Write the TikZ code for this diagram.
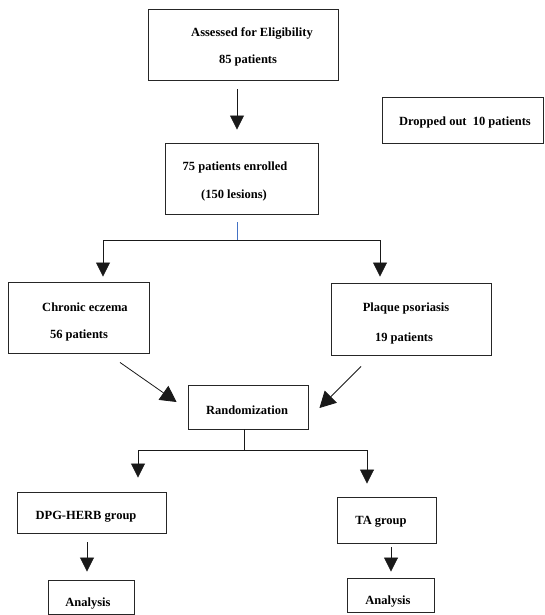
\documentclass[tikz,border=0pt]{standalone}
\usepackage{fontspec}
\setmainfont{Liberation Serif}
\usetikzlibrary{arrows.meta,calc}
\definecolor{linkblue}{RGB}{68,114,196}
\begin{document}
\begin{tikzpicture}[x=1pt,y=-1pt,
  box/.style={draw=black!85,line width=0.9pt,inner sep=0pt},
  txt/.style={font=\fontsize{12.5}{14}\selectfont\bfseries,inner sep=0pt},
  conn/.style={draw=black!90,line width=0.8pt},
  arr/.style={conn,-{Triangle[width=14pt,length=14pt]}},
  darr/.style={conn,-{Triangle[width=17pt,length=16pt]}}]
\useasboundingbox (0,0) rectangle (544,615);
% boxes
\node[box,minimum width=190pt,minimum height=71pt] (top) at (243,44.5) {};
\node[box,minimum width=153pt,minimum height=71pt] (enr) at (241.5,178.5) {};
\node[box,minimum width=161pt,minimum height=46pt] (drop) at (462.5,120) {};
\node[box,minimum width=141pt,minimum height=71pt] (chr) at (78.5,317.5) {};
\node[box,minimum width=160pt,minimum height=72pt] (plq) at (411,319) {};
\node[box,minimum width=120pt,minimum height=44pt] (rnd) at (248,407) {};
\node[box,minimum width=149pt,minimum height=41pt] (dpg) at (91.5,512.5) {};
\node[box,minimum width=99pt,minimum height=46pt] (ta) at (386.5,520) {};
\node[box,minimum width=86pt,minimum height=34pt] (an1) at (91,597) {};
\node[box,minimum width=87pt,minimum height=34pt] (an2) at (390.5,595) {};
% texts
\node[txt] (top-a) at (252,33) {Assessed for Eligibility};
\node[txt] (top-b) at (248,60) {85 patients};
\node[txt] (enr-a) at (235,167) {75 patients enrolled};
\node[txt] (enr-b) at (234,195) {(150 lesions)};
\node[txt] (drop-a) at (465,122) {Dropped out\ \ 10 patients};
\node[txt] (chr-a) at (85,307) {Chronic eczema};
\node[txt] (chr-b) at (79,335) {56 patients};
\node[txt] (plq-a) at (406,308) {Plaque psoriasis};
\node[txt] (plq-b) at (404,338) {19 patients};
\node[txt] (rnd-a) at (247,410) {Randomization};
\node[txt] (dpg-a) at (86,517) {DPG-HERB group};
\node[txt] (ta-a) at (381,522) {TA group};
\node[txt] (an1-a) at (88,604) {Analysis};
\node[txt] (an2-a) at (388,602) {Analysis};
% connectors
\draw[arr,shorten <=9pt,shorten >=13pt] ([xshift=-6pt]top.south) -- ([xshift=-4.5pt]enr.north);
\coordinate (split1) at (237,240);
\draw[draw=linkblue,line width=0.8pt,shorten <=8pt] (enr.south -| split1) -- (split1);
\draw[arr,shorten >=5pt] (split1) -| ([xshift=24.5pt]chr.north);
\draw[arr,shorten >=6pt] (split1) -| ([xshift=-31pt]plq.north);
\draw[darr] ($(chr.south)+(41.5,9)$) -- ($(rnd.west)+(-11,-5)$);
\draw[darr] ($(plq.south)+(-50,11)$) -- ($(rnd.east)+(11,1)$);
\coordinate (split2) at (244,450);
\draw[conn] (rnd.south -| split2) -- (split2);
\draw[arr,shorten >=14pt] (split2) -| ([xshift=46.5pt]dpg.north);
\draw[arr,shorten >=13pt] (split2) -| ([xshift=-19.5pt]ta.north);
\draw[arr,shorten <=9pt,shorten >=8pt] ([xshift=-4.5pt]dpg.south) -- ([xshift=-4pt]an1.north);
\draw[arr,shorten <=4pt,shorten >=6pt] ([xshift=4.5pt]ta.south) -- ([xshift=0.5pt]an2.north);
\end{tikzpicture}
\end{document}
